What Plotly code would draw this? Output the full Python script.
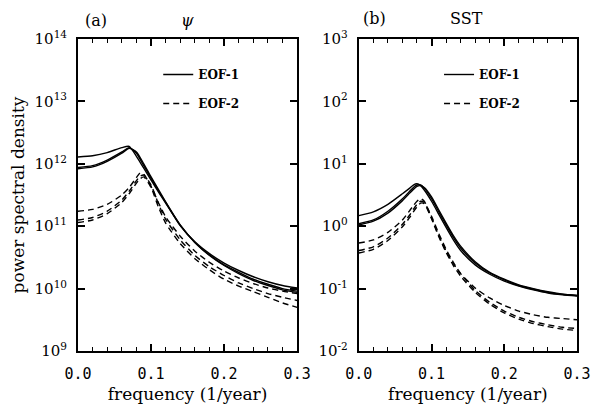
import plotly.graph_objects as go

# ---------------- data (log10 of power spectral density) ----------------
freq_a_solid = [0, .02, .04, .06, .07, .08, .09, .10, .11, .12, .14, .16, .18, .20, .22, .24, .26, .28, .30]
psi_eof1_1 = [12.11, 12.13, 12.18, 12.26, 12.28, 12.12, 11.93, 11.74, 11.55, 11.37, 11.01, 10.75, 10.56, 10.41, 10.29, 10.19, 10.11, 10.05, 10.01]
psi_eof1_2 = [11.94, 11.97, 12.06, 12.19, 12.26, 12.17, 11.97, 11.77, 11.57, 11.38, 11.01, 10.74, 10.54, 10.38, 10.26, 10.15, 10.07, 10.00, 9.96]
psi_eof1_3 = [11.92, 11.95, 12.04, 12.17, 12.25, 12.19, 12.00, 11.79, 11.59, 11.39, 11.02, 10.74, 10.53, 10.37, 10.24, 10.13, 10.05, 9.98, 9.94]

freq_a_dash = [0, .02, .04, .06, .07, .08, .085, .09, .10, .11, .12, .14, .16, .18, .20, .22, .24, .26, .28, .30]
psi_eof2_1 = [11.24, 11.27, 11.35, 11.50, 11.62, 11.78, 11.85, 11.83, 11.64, 11.38, 11.15, 10.84, 10.60, 10.42, 10.28, 10.17, 10.08, 10.01, 9.96, 9.92]
psi_eof2_2 = [11.10, 11.14, 11.24, 11.42, 11.56, 11.73, 11.80, 11.82, 11.66, 11.36, 11.11, 10.78, 10.53, 10.35, 10.21, 10.09, 10.00, 9.92, 9.86, 9.81]
psi_eof2_3 = [11.06, 11.10, 11.20, 11.38, 11.52, 11.69, 11.76, 11.79, 11.62, 11.31, 11.05, 10.72, 10.48, 10.30, 10.15, 10.04, 9.95, 9.86, 9.77, 9.70]

freq_b = [0, .02, .04, .06, .07, .075, .08, .085, .09, .10, .11, .12, .13, .14, .16, .18, .20, .22, .24, .26, .28, .30]
sst_eof1_1 = [0.17, 0.23, 0.35, 0.52, 0.61, 0.66, 0.68, 0.65, 0.58, 0.40, 0.19, -0.02, -0.22, -0.39, -0.62, -0.77, -0.88, -0.96, -1.02, -1.07, -1.10, -1.12]
sst_eof1_2 = [0.04, 0.10, 0.24, 0.44, 0.56, 0.62, 0.66, 0.66, 0.61, 0.44, 0.23, 0.02, -0.18, -0.35, -0.59, -0.75, -0.86, -0.95, -1.01, -1.06, -1.09, -1.11]
sst_eof1_3 = [0.02, 0.08, 0.21, 0.41, 0.53, 0.59, 0.64, 0.65, 0.62, 0.47, 0.26, 0.05, -0.15, -0.32, -0.57, -0.74, -0.85, -0.94, -1.00, -1.05, -1.09, -1.11]
sst_eof2_1 = [-0.27, -0.22, -0.10, 0.10, 0.25, 0.33, 0.40, 0.44, 0.40, 0.13, -0.15, -0.40, -0.60, -0.76, -0.99, -1.15, -1.27, -1.36, -1.42, -1.46, -1.48, -1.50]
sst_eof2_2 = [-0.39, -0.33, -0.19, 0.03, 0.18, 0.27, 0.35, 0.40, 0.38, 0.16, -0.12, -0.37, -0.58, -0.76, -1.03, -1.22, -1.36, -1.46, -1.53, -1.58, -1.62, -1.64]
sst_eof2_3 = [-0.43, -0.37, -0.23, -0.01, 0.14, 0.23, 0.31, 0.37, 0.36, 0.12, -0.17, -0.42, -0.63, -0.80, -1.06, -1.25, -1.39, -1.49, -1.56, -1.61, -1.65, -1.67]

x_major_step = 0.1
x_minor_step = 0.02
ya_exps = [9, 10, 11, 12, 13, 14]
yb_exps = [-2, -1, 0, 1, 2, 3]

SERIF = "DejaVu Serif"
MONO = "DejaVu Sans Mono"

fig = go.Figure()

def add(xs, logs, dash, xa, ya, legend, name, show):
    fig.add_trace(go.Scatter(
        x=xs, y=[10 ** v for v in logs], mode="lines",
        line=dict(color="black", width=1.4, dash=dash, shape="spline", smoothing=0.6),
        xaxis=xa, yaxis=ya, legend=legend, name=name, showlegend=show,
        legendgroup=name + legend,
    ))

DASH = "6px,4px"
for i, s in enumerate([psi_eof1_1, psi_eof1_2, psi_eof1_3]):
    add(freq_a_solid, s, "solid", "x", "y", "legend", "EOF-1", i == 0)
for i, s in enumerate([psi_eof2_1, psi_eof2_2, psi_eof2_3]):
    add(freq_a_dash, s, DASH, "x", "y", "legend", "EOF-2", i == 0)
for i, s in enumerate([sst_eof1_1, sst_eof1_2, sst_eof1_3]):
    add(freq_b, s, "solid", "x2", "y2", "legend2", "EOF-1", i == 0)
for i, s in enumerate([sst_eof2_1, sst_eof2_2, sst_eof2_3]):
    add(freq_b, s, DASH, "x2", "y2", "legend2", "EOF-2", i == 0)

def xaxis_cfg(domain, anchor, title):
    return dict(
        domain=domain, anchor=anchor,
        range=[0, 0.3], tickmode="linear", tick0=0, dtick=x_major_step, tickformat=".1f",
        ticks="inside", ticklen=7, tickwidth=1.5, tickcolor="black",
        minor=dict(tickmode="linear", tick0=0, dtick=x_minor_step, ticks="inside", ticklen=4,
                   tickwidth=1.2, tickcolor="black", showgrid=False),
        showline=True, linewidth=2, linecolor="black", mirror="ticks",
        showgrid=False, zeroline=False,
        tickfont=dict(family=MONO, size=15, color="black"),
        ticklabelstandoff=8,
        title=dict(text=title, font=dict(family=SERIF, size=17, color="black"), standoff=6),
    )

def yaxis_cfg(exps, anchor, title=None):
    d = dict(
        domain=[0, 1], anchor=anchor,
        type="log", range=[exps[0], exps[-1]],
        tickmode="array",
        tickvals=[10 ** e for e in exps],
        ticktext=["10<sup>%d</sup>" % e for e in exps],
        ticks="inside", ticklen=7, tickwidth=1.5, tickcolor="black",
        showline=True, linewidth=2, linecolor="black", mirror="ticks",
        showgrid=False, zeroline=False,
        tickfont=dict(family=SERIF, size=15, color="black"),
        ticklabelstandoff=6,
    )
    if title:
        d["title"] = dict(text=title, font=dict(family=SERIF, size=17, color="black"), standoff=6)
    return d

L, R = 78, 15
W = 603 - L - R
dom_a = [0, (302 - L) / W]
dom_b = [(365 - L) / W, 1]

fig.update_layout(
    width=603, height=413,
    margin=dict(l=L, r=R, t=39, b=62),
    paper_bgcolor="white", plot_bgcolor="white",
    xaxis=xaxis_cfg(dom_a, "y", "frequency (1/year)"),
    xaxis2=xaxis_cfg(dom_b, "y2", "frequency (1/year)"),
    yaxis=yaxis_cfg(ya_exps, "x", "power spectral density"),
    yaxis2=yaxis_cfg(yb_exps, "x2"),
    legend=dict(x=(160 - L) / W, y=(351 - 60) / 312, xanchor="left", yanchor="top",
                bgcolor="rgba(0,0,0,0)", traceorder="grouped", tracegroupgap=10,
                font=dict(family=SERIF, size=12, color="black", weight="bold")),
    legend2=dict(x=(447 - L) / W, y=(351 - 60) / 312, xanchor="left", yanchor="top",
                 bgcolor="rgba(0,0,0,0)", traceorder="grouped", tracegroupgap=10,
                 font=dict(family=SERIF, size=12, color="black", weight="bold")),
    showlegend=True,
)

ann_font = dict(family=SERIF, size=16, color="black")
for txt, xr, yr, xx, yy in [("(a)", "x domain", "y domain", 0.08, 1.06),
                            ("<i>ψ</i>", "x domain", "y domain", 0.5, 1.06),
                            ("(b)", "x2 domain", "y2 domain", 0.072, 1.065),
                            ("SST", "x2 domain", "y2 domain", 0.493, 1.065)]:
    fig.add_annotation(text=txt, xref=xr, yref=yr, x=xx, y=yy, xanchor="center", yanchor="middle",
                       showarrow=False, font=ann_font)

fig.write_html("out.html")
